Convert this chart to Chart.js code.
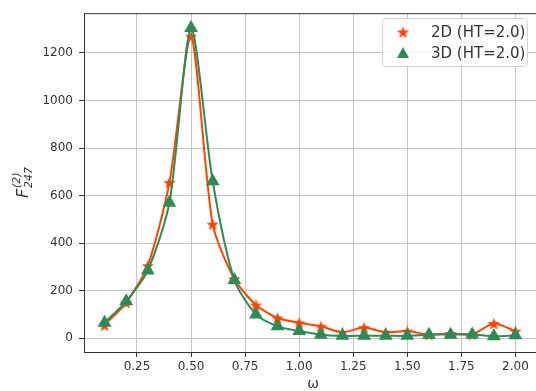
<!DOCTYPE html>
<html>
<head>
<meta charset="utf-8">
<script src="https://cdn.jsdelivr.net/npm/chart.js@4/dist/chart.umd.min.js"></script>
<style>
  html, body { margin: 0; padding: 0; background: #fff; overflow: hidden; }
  #wrap { width: 536px; height: 391px; overflow: hidden; }
  canvas { display: block; }
</style>
</head>
<body>
<div id="wrap"><canvas id="fChart" width="544" height="391"></canvas></div>
<script>
// frequency sweep
const omega = [0.1, 0.2, 0.3, 0.4, 0.5, 0.6, 0.7, 0.8, 0.9, 1.0,
               1.1, 1.2, 1.3, 1.4, 1.5, 1.6, 1.7, 1.8, 1.9, 2.0];
const f2D = [55, 150, 305, 655, 1270, 480, 250, 140, 85, 65,
             50, 25, 45, 25, 30, 15, 20, 16, 62, 30];
const f3D = [65, 155, 285, 570, 1305, 660, 245, 100, 50, 30,
             15, 10, 10, 10, 10, 15, 15, 16, 8, 12];
const xTicks = [0.25, 0.5, 0.75, 1.0, 1.25, 1.5, 1.75, 2.0];
const yTicks = [0, 200, 400, 600, 800, 1000, 1200];
const labels = ["2D (HT=2.0)", "3D (HT=2.0)"];

const ORANGE = "#ff4500";
const GREEN = "#2e8b57";
const FONT = "'DejaVu Sans', sans-serif";

// filled five-point star, used as a point style
function starMarker(color, r) {
  const c = document.createElement("canvas");
  const s = Math.ceil(r * 2 + 2);
  c.width = s; c.height = s;
  const g = c.getContext("2d");
  g.translate(s / 2, s / 2 + r * 0.1);
  g.beginPath();
  for (let i = 0; i < 10; i++) {
    const rad = i % 2 === 0 ? r : r * 0.42;
    const a = -Math.PI / 2 + i * Math.PI / 5;
    g.lineTo(Math.cos(a) * rad, Math.sin(a) * rad);
  }
  g.closePath();
  g.fillStyle = color;
  g.fill();
  return c;
}
const star = starMarker(ORANGE, 6.5);

const extras = {
  id: "extras",
  afterDraw(chart) {
    const { ctx, chartArea: a } = chart;
    ctx.save();
    // top spine
    ctx.strokeStyle = "#333";
    ctx.lineWidth = 1;
    ctx.beginPath();
    ctx.moveTo(a.left, a.top + 0.5);
    ctx.lineTo(a.right, a.top + 0.5);
    ctx.stroke();

    // legend
    const bx = 382, by = 18, bw = 145, bh = 48;
    ctx.fillStyle = "rgba(255,255,255,0.85)";
    ctx.strokeStyle = "#d6d6d6";
    ctx.beginPath();
    ctx.roundRect(bx + 0.5, by + 0.5, bw, bh, 3);
    ctx.fill();
    ctx.stroke();
    ctx.drawImage(star, 403 - star.width / 2, 32 - star.height / 2);
    ctx.fillStyle = GREEN;
    ctx.beginPath();
    ctx.moveTo(403, 47);
    ctx.lineTo(409, 58);
    ctx.lineTo(397, 58);
    ctx.closePath();
    ctx.fill();
    ctx.fillStyle = "#333";
    ctx.font = "15px " + FONT;
    ctx.textBaseline = "middle";
    ctx.textAlign = "left";
    ctx.fillText(labels[0], 431, 33);
    ctx.fillText(labels[1], 431, 54);

    // x axis title
    ctx.font = "14px " + FONT;
    ctx.textAlign = "center";
    ctx.fillText("\u03c9", 313, 384);

    // y axis title F^(2)_247
    ctx.translate(28, 198);
    ctx.rotate(-Math.PI / 2);
    ctx.textAlign = "left";
    ctx.textBaseline = "alphabetic";
    ctx.font = "italic 16px " + FONT;
    ctx.fillText("F", 0, 0);
    ctx.font = "italic 11px " + FONT;
    ctx.fillText("(2)", 10, -8);
    ctx.fillText("247", 10, 4);
    ctx.restore();
  }
};

new Chart(document.getElementById("fChart"), {
  type: "line",
  data: {
    datasets: [
      {
        label: labels[0],
        data: omega.map((x, i) => ({ x, y: f2D[i] })),
        borderColor: ORANGE,
        backgroundColor: ORANGE,
        borderWidth: 2,
        pointStyle: star,
        tension: 0.25,
        order: 2
      },
      {
        label: labels[1],
        data: omega.map((x, i) => ({ x, y: f3D[i] })),
        borderColor: GREEN,
        backgroundColor: GREEN,
        borderWidth: 2,
        pointStyle: "triangle",
        pointRadius: 6,
        tension: 0.25,
        order: 1
      }
    ]
  },
  options: {
    responsive: false,
    animation: false,
    devicePixelRatio: 1,
    layout: { padding: { top: 10, right: 0, left: 0, bottom: 0 } },
    plugins: { legend: { display: false }, tooltip: { enabled: false } },
    scales: {
      x: {
        type: "linear",
        min: 0.005,
        max: 2.095,
        afterBuildTicks: axis => { axis.ticks = xTicks.map(v => ({ value: v })); },
        afterFit: axis => { axis.height = 39; },
        grid: { color: "#c4c4c4", lineWidth: 1, tickLength: 5, tickColor: "#333" },
        border: { color: "#333", width: 1 },
        ticks: {
          color: "#333",
          font: { family: FONT, size: 12 },
          padding: 3,
          maxRotation: 0,
          callback: v => v.toFixed(2)
        }
      },
      y: {
        min: -58,
        max: 1367,
        afterBuildTicks: axis => { axis.ticks = yTicks.map(v => ({ value: v })); },
        afterFit: axis => { axis.width = 84; },
        grid: { color: "#c4c4c4", lineWidth: 1, tickLength: 5, tickColor: "#333" },
        border: { color: "#333", width: 1 },
        ticks: {
          color: "#333",
          font: { family: FONT, size: 12 },
          padding: 6,
          callback: v => String(v)
        }
      }
    }
  },
  plugins: [extras]
});
</script>
</body>
</html>
